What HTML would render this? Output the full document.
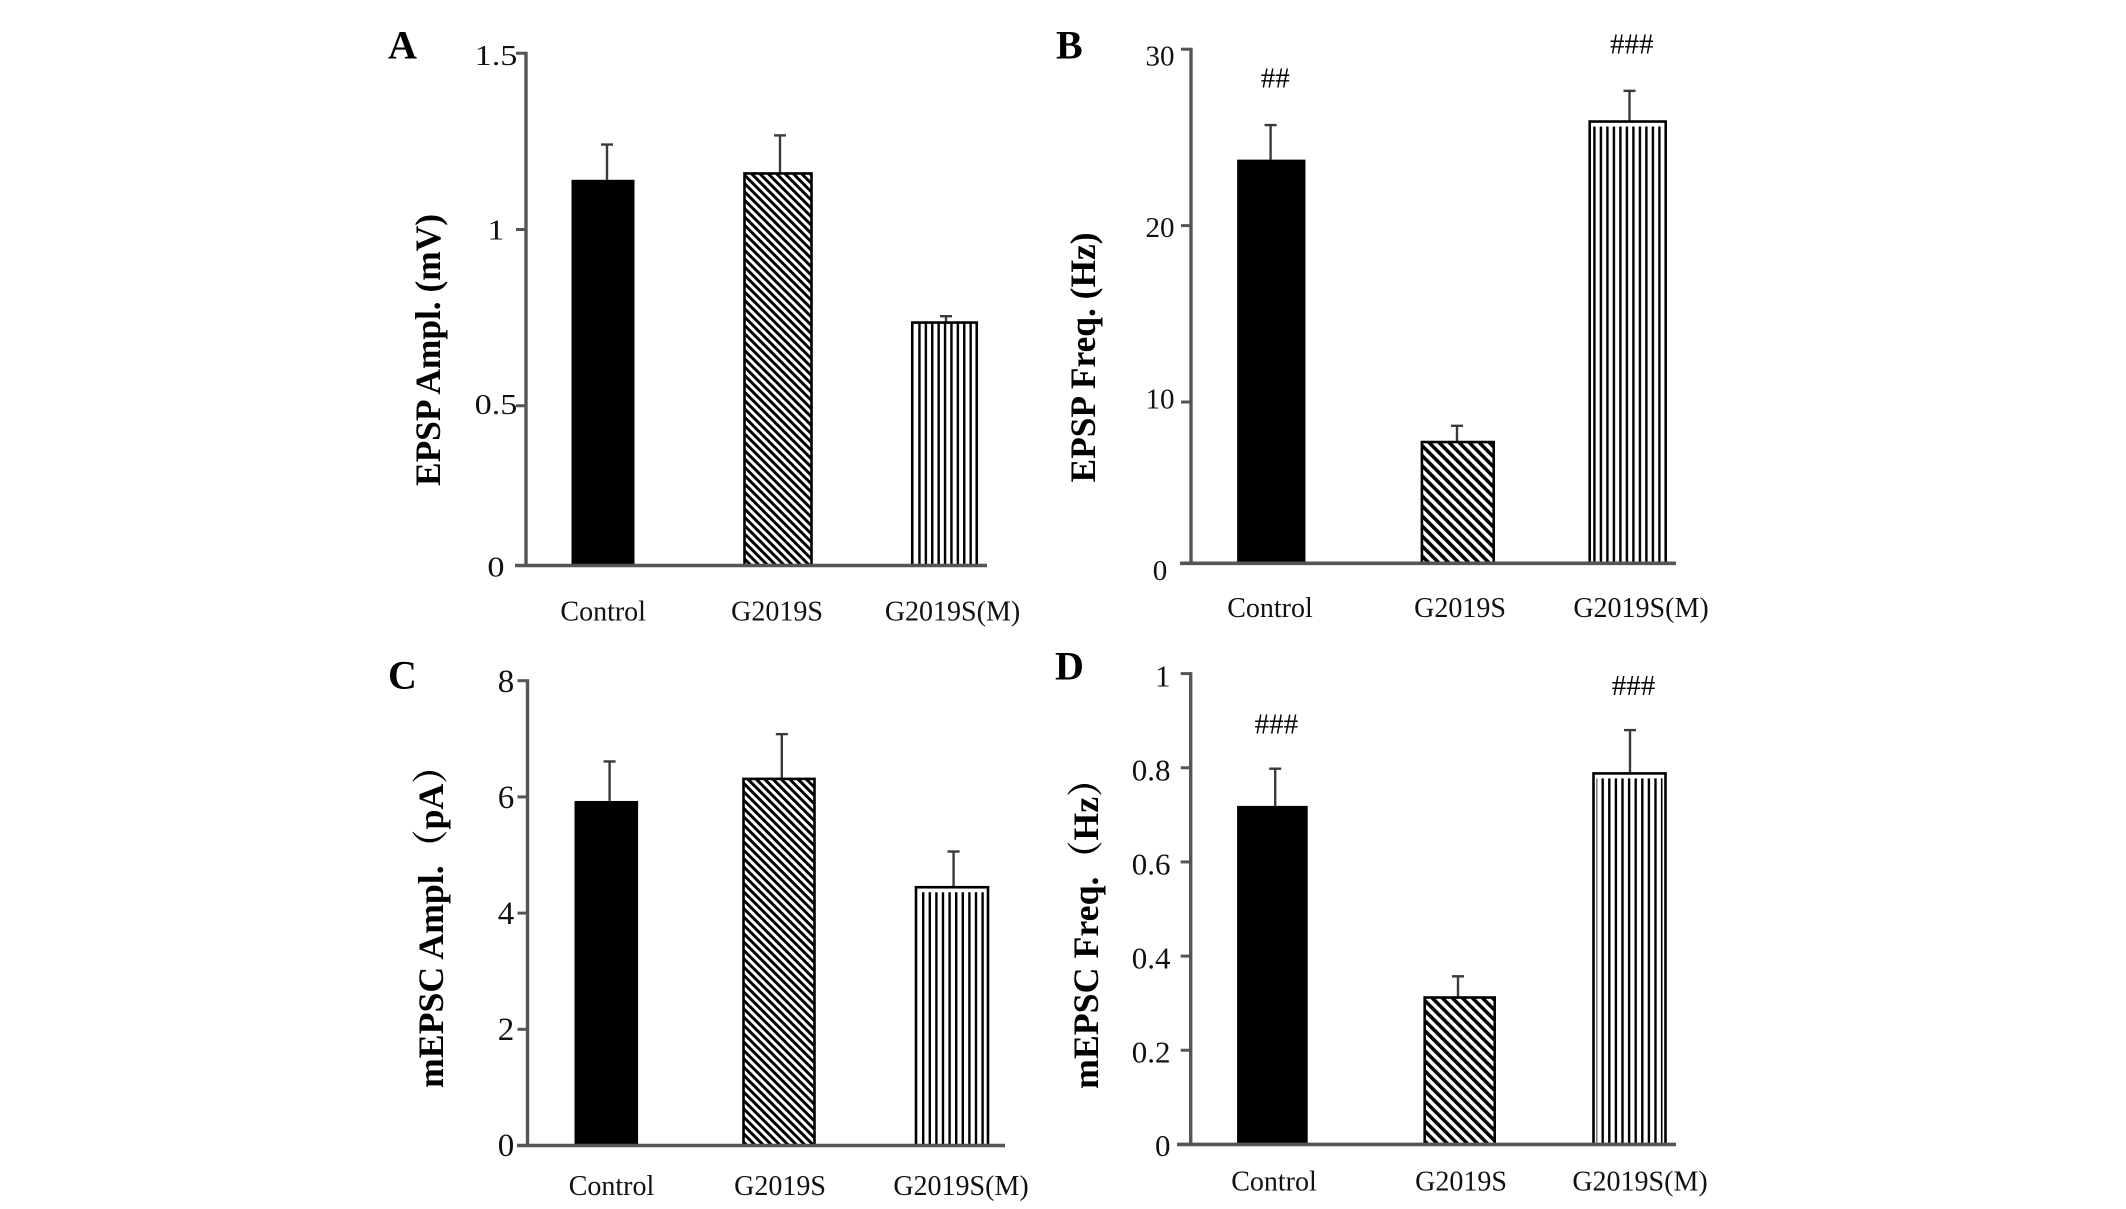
<!DOCTYPE html>
<html lang="en">
<head>
<meta charset="utf-8">
<title>EPSP and mEPSC bar charts</title>
<style>
  html, body { margin: 0; padding: 0; background: #fff; }
  body { width: 2126px; height: 1209px; overflow: hidden; }
  svg { display: block; font-family: "Liberation Serif", "Noto Serif CJK SC", serif; }
</style>
</head>
<body>
<svg id="figure" xmlns="http://www.w3.org/2000/svg" width="2126" height="1209" viewBox="0 0 2126 1209">
  <defs id="pattern-defs"></defs>
  <rect x="0" y="0" width="2126" height="1209" fill="#ffffff"></rect>
</svg>
<script>
const categories = ['Control', 'G2019S', 'G2019S(M)'];

const epspAmplValues = [1.141, 1.159, 0.736];
const epspAmplErrors = [0.100, 0.108, 0.018];
const epspAmplTicks = [0, 0.5, 1, 1.5];
const epspAmplTickLabels = ['0', '0.5', '1', '1.5'];
const epspAmplMarks = ['', '', ''];

const epspFreqValues = [23.74, 7.73, 25.9];
const epspFreqErrors = [1.96, 0.92, 1.74];
const epspFreqTicks = [0, 10, 20, 30];
const epspFreqTickLabels = ['0', '10', '20', '30'];
const epspFreqMarks = ['##', '', '###'];

const mepscAmplValues = [5.93, 6.31, 4.445];
const mepscAmplErrors = [0.68, 0.77, 0.615];
const mepscAmplTicks = [0, 2, 4, 6, 8];
const mepscAmplTickLabels = ['0', '2', '4', '6', '8'];
const mepscAmplMarks = ['', '', ''];

const mepscFreqValues = [0.719, 0.312, 0.788];
const mepscFreqErrors = [0.079, 0.045, 0.092];
const mepscFreqTicks = [0, 0.2, 0.4, 0.6, 0.8, 1];
const mepscFreqTickLabels = ['0', '0.2', '0.4', '0.6', '0.8', '1'];
const mepscFreqMarks = ['###', '', '###'];

/* Layout only: no data lives here. */
const panels = [
  { id: 'a', letter: 'A', letterX: 388, letterY: 58.5, title: 'EPSP Ampl. (mV)', titleX: 440, titleY: 350, titleLen: 272,
    values: epspAmplValues, errors: epspAmplErrors, ticks: epspAmplTicks, tickLabels: epspAmplTickLabels, marks: epspAmplMarks,
    axisX: 526, axisTop: 53.3, baseY: 565.5, baseLeft: 515, baseRight: 987, zeroY: 582, pxPerUnit: 352.5,
    labelZero: 579, labelPerUnit: 349, labelMax: 567, labelX: 496, labelAnchor: 'middle', tickFont: 29, tickStretch: 1.18,
    centers: [603, 778, 944.5], widths: [63, 67, 64.5], errShift: [4, 2, 1.5],
    catCenters: [603.2, 777, 952.5], catY: 620.5, markGap: 36, markShift: 3.5,
    hatch: 5.9, stripeGap: 6.4, stripeStart: 6, stripeInset: 0 },
  { id: 'b', letter: 'B', letterX: 1056, letterY: 58.3, title: 'EPSP Freq. (Hz)', titleX: 1095, titleY: 357.5, titleLen: 250,
    values: epspFreqValues, errors: epspFreqErrors, ticks: epspFreqTicks, tickLabels: epspFreqTickLabels, marks: epspFreqMarks,
    axisX: 1191, axisTop: 49.2, baseY: 563.3, baseLeft: 1180, baseRight: 1676, zeroY: 578.4, pxPerUnit: 17.64,
    labelZero: 570.5, labelPerUnit: 17.15, labelMax: 570.5, labelX: 1160, labelAnchor: 'middle', tickFont: 29, tickStretch: 1,
    centers: [1271.3, 1457.8, 1627.7], widths: [68.3, 71.8, 76], errShift: [-0.7, -0.8, 1.8],
    catCenters: [1270, 1460, 1641], catY: 617, markGap: 37.5, markShift: 4,
    hatch: 7.1, stripeGap: 6.5, stripeStart: 10, stripeInset: 5 },
  { id: 'c', letter: 'C', letterX: 388, letterY: 688.5, title: 'mEPSC Ampl.（pA）', titleX: 443, titleY: 918, titleLen: 340,
    values: mepscAmplValues, errors: mepscAmplErrors, ticks: mepscAmplTicks, tickLabels: mepscAmplTickLabels, marks: mepscAmplMarks,
    axisX: 527.5, axisTop: 680.8, baseY: 1145.5, baseLeft: 517, baseRight: 1005, zeroY: 1145.5, pxPerUnit: 58.1,
    labelZero: 1145, labelPerUnit: 58, labelMax: 1145, labelX: 506, labelAnchor: 'middle', tickFont: 33, tickStretch: 1,
    centers: [606.3, 779, 952], widths: [63.6, 71, 72], errShift: [3.3, 2.8, 1.6],
    catCenters: [611.5, 780, 961], catY: 1195, markGap: 36, markShift: 3,
    hatch: 5.9, stripeGap: 6.6, stripeStart: 6, stripeInset: 5 },
  { id: 'd', letter: 'D', letterX: 1055, letterY: 679.4, title: 'mEPSC Freq.（Hz）', titleX: 1098, titleY: 925, titleLen: 328,
    values: mepscFreqValues, errors: mepscFreqErrors, ticks: mepscFreqTicks, tickLabels: mepscFreqTickLabels, marks: mepscFreqMarks,
    axisX: 1190.7, axisTop: 673.6, baseY: 1144.4, baseLeft: 1177, baseRight: 1676, zeroY: 1144.4, pxPerUnit: 470.8,
    labelZero: 1146, labelPerUnit: 469.5, labelMax: 1146, labelX: 1170.5, labelAnchor: 'end', tickFont: 31, tickStretch: 1,
    centers: [1272.4, 1459.7, 1629.5], widths: [70.6, 70, 72], errShift: [2.8, -1.7, 0.5],
    catCenters: [1274, 1461, 1640], catY: 1190.5, markGap: 35, markShift: 4,
    hatch: 7.1, stripeGap: 6.6, stripeStart: 8, stripeInset: 5 }
];

const SVG_NS = 'http://www.w3.org/2000/svg';
const root = document.getElementById('figure');
const defs = document.getElementById('pattern-defs');

function node(parent, tag, attrs, text) {
  const el = document.createElementNS(SVG_NS, tag);
  Object.keys(attrs).forEach(function (k) { el.setAttribute(k, attrs[k]); });
  if (text !== undefined) el.textContent = text;
  parent.appendChild(el);
  return el;
}

function yScale(p, v) {
  return Math.min(p.zeroY - v * p.pxPerUnit, p.baseY);
}
function labelScale(p, v) {
  return Math.min(p.labelZero - v * p.labelPerUnit, p.labelMax);
}
function xBand(p, i) {
  return p.centers[i] - p.widths[i] / 2;
}
function stretchText(el, factor) {
  if (factor !== 1) {
    el.setAttribute('textLength', el.getComputedTextLength() * factor);
    el.setAttribute('lengthAdjust', 'spacingAndGlyphs');
  }
}

panels.forEach(function (p) {
  const diag = node(defs, 'pattern', { id: 'hatch-diag-' + p.id, patternUnits: 'userSpaceOnUse', width: p.hatch, height: p.hatch, patternTransform: 'rotate(-45)' });
  node(diag, 'rect', { x: 0, y: 0, width: p.hatch / 2, height: p.hatch, fill: '#000' });

  const lastLeft = xBand(p, 2);
  const vert = node(defs, 'pattern', { id: 'hatch-vert-' + p.id, patternUnits: 'userSpaceOnUse', width: p.stripeGap, height: 20, patternTransform: 'translate(' + (lastLeft + p.stripeStart) + ' 0)' });
  node(vert, 'rect', { x: 0, y: 0, width: 2.4, height: 20, fill: '#000' });

  const group = node(root, 'g', {});
  
  

  const letter = node(group, 'text', { x: p.letterX, y: p.letterY, 'font-size': 40, 'font-weight': 'bold', fill: '#000' }, p.letter);
  
  

  const title = node(group, 'text', { x: 0, y: 0, 'font-size': 36, 'font-weight': 'bold', fill: '#000', 'text-anchor': 'middle', textLength: p.titleLen, lengthAdjust: 'spacingAndGlyphs', transform: 'translate(' + p.titleX + ' ' + p.titleY + ') rotate(-90)' }, p.title);
  
  

  p.values.forEach(function (value, i) {
    const left = xBand(p, i);
    const width = p.widths[i];
    const top = yScale(p, value);
    const height = p.baseY - top;
    const errTop = yScale(p, value + p.errors[i]);
    const errX = p.centers[i] + p.errShift[i];

    const errLine = node(group, 'line', { x1: errX, x2: errX, y1: errTop, y2: top, stroke: '#3a3a3a', 'stroke-width': 2.4 });
    
    

    const errCap = node(group, 'line', { x1: errX - 6, x2: errX + 6, y1: errTop, y2: errTop, stroke: '#3a3a3a', 'stroke-width': 2.4 });
    
    

    const fill = i === 0 ? '#000' : (i === 1 ? 'url(#hatch-diag-' + p.id + ')' : '#fff');
    const bar = node(group, 'rect', { x: left, y: top, width: width, height: height, fill: fill, stroke: '#000', 'stroke-width': i === 0 ? 0 : 2.6 });
    
    

    if (i === 2) {
      const stripes = node(group, 'rect', { x: left + 3, y: top + p.stripeInset, width: width - 6, height: Math.max(0, height - p.stripeInset), fill: 'url(#hatch-vert-' + p.id + ')' });
      
      
    }

    if (p.marks[i]) {
      const mark = node(group, 'text', { x: p.centers[i] + p.markShift, y: errTop - p.markGap, 'font-size': 29, fill: '#000', 'text-anchor': 'middle' }, p.marks[i]);
      
      
    }

    const cat = node(group, 'text', { x: p.catCenters[i], y: p.catY, 'font-size': 28, fill: '#111', 'text-anchor': 'middle' }, categories[i]);
    
    
  });

  const yAxis = node(group, 'line', { x1: p.axisX, x2: p.axisX, y1: p.axisTop - 1.5, y2: p.baseY, stroke: '#555', 'stroke-width': 3.4 });
  
  

  const xAxis = node(group, 'line', { x1: p.baseLeft, x2: p.baseRight, y1: p.baseY, y2: p.baseY, stroke: '#555', 'stroke-width': 3.6 });
  
  

  p.ticks.forEach(function (tick, i) {
    const ty = yScale(p, tick);
    const mark = node(group, 'line', { x1: p.axisX - 10, x2: p.axisX, y1: ty, y2: ty, stroke: '#555', 'stroke-width': 3 });
    
    

    const label = node(group, 'text', { x: p.labelX, y: labelScale(p, tick) + p.tickFont * 0.33, 'font-size': p.tickFont, fill: '#111', 'text-anchor': p.labelAnchor }, p.tickLabels[i]);
    
    
    stretchText(label, p.tickStretch);
  });
});
</script>
</body>
</html>
